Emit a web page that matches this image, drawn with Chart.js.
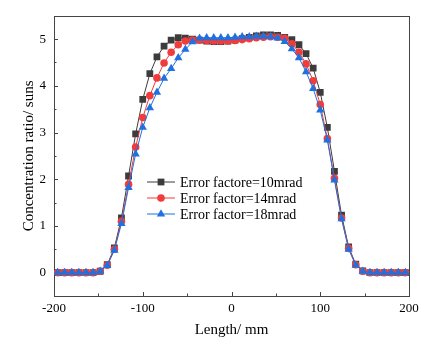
<!DOCTYPE html>
<html>
<head>
<meta charset="utf-8">
<script src="https://cdn.jsdelivr.net/npm/chart.js@4.4.1/dist/chart.umd.min.js"></script>
<style>
  html, body { margin: 0; padding: 0; background: #fff; }
</style>
</head>
<body>
<canvas id="chart" width="437" height="349"></canvas>
<script>
// positions along the receiver, mm
const lengths = [-196, -188, -180, -172, -164, -156, -148, -140, -132, -124, -116, -108, -100, -92, -84, -76, -68, -60, -52, -44, -36, -28, -20, -12, -4,
                 4, 12, 20, 28, 36, 44, 52, 60, 68, 76, 84, 92, 100, 108, 116, 124, 132, 140, 148, 156, 164, 172, 180, 188, 196];

// concentration ratio (suns) for each error factor
const err10 = [0, 0, 0, 0, 0, 0, 0.03, 0.17, 0.53, 1.17, 2.07, 2.97, 3.71, 4.26, 4.62, 4.85, 4.98, 5.03, 5.02, 5.0, 4.98, 4.96, 4.95, 4.95, 4.96,
               4.98, 5.01, 5.04, 5.07, 5.09, 5.09, 5.08, 5.04, 4.99, 4.88, 4.69, 4.38, 3.86, 3.11, 2.17, 1.23, 0.55, 0.18, 0.04, 0, 0, 0, 0, 0, 0];
const err14 = [0, 0, 0, 0, 0, 0, 0.03, 0.16, 0.5, 1.1, 1.89, 2.69, 3.32, 3.79, 4.17, 4.49, 4.72, 4.88, 4.96, 4.98, 4.98, 4.97, 4.96, 4.96, 4.96,
               4.97, 4.99, 5.01, 5.03, 5.04, 5.05, 5.04, 5.02, 4.9, 4.72, 4.47, 4.11, 3.6, 2.87, 2.02, 1.17, 0.52, 0.17, 0.03, 0, 0, 0, 0, 0, 0];
const err18 = [0, 0, 0, 0, 0, 0, 0.03, 0.15, 0.48, 1.05, 1.82, 2.54, 3.11, 3.53, 3.86, 4.16, 4.37, 4.6, 4.78, 4.94, 5.02, 5.03, 5.03, 5.03, 5.03,
               5.04, 5.05, 5.05, 5.06, 5.06, 5.05, 5.02, 4.95, 4.79, 4.6, 4.3, 3.94, 3.48, 2.84, 1.98, 1.15, 0.5, 0.16, 0.03, 0, 0, 0, 0, 0, 0];

const seriesNames = ["Error factore=10mrad", "Error factor=14mrad", "Error factor=18mrad"];
const xTicks = [-200, -100, 0, 100, 200];
const yTicks = [0, 1, 2, 3, 4, 5];

const serif = "'Liberation Serif', 'Times New Roman', serif";
const frameColor = "#444";

function toPoints(values) {
  return values.map((v, i) => ({ x: lengths[i], y: v }));
}

// box round the plot and inward ticks (major + minor)
const frame = {
  id: "frame",
  beforeDatasetsDraw(chart) {
    const { ctx, chartArea: a, scales: { x, y } } = chart;
    ctx.save();
    ctx.strokeStyle = frameColor;
    ctx.lineWidth = 1;
    ctx.strokeRect(Math.round(a.left) + 0.5, Math.round(a.top) + 0.5,
                   Math.round(a.right - a.left), Math.round(a.bottom - a.top));
    ctx.beginPath();
    for (let v = -200; v <= 200; v += 50) {
      const px = Math.round(x.getPixelForValue(v)) + 0.5;
      const len = v % 100 === 0 ? 4 : 2.5;
      ctx.moveTo(px, a.bottom);
      ctx.lineTo(px, a.bottom - len);
    }
    for (let v = -0.5; v <= 5.5; v += 0.5) {
      const py = Math.round(y.getPixelForValue(v)) + 0.5;
      const len = Number.isInteger(v) ? 4 : 2.5;
      ctx.moveTo(a.left, py);
      ctx.lineTo(a.left + len, py);
    }
    ctx.stroke();
    ctx.restore();
  }
};

// legend drawn inside the plot: line + marker + label
const innerLegend = {
  id: "innerLegend",
  afterDatasetsDraw(chart) {
    const { ctx } = chart;
    ctx.save();
    chart.data.datasets.forEach((ds, i) => {
      const yy = 182 + i * 16;
      ctx.strokeStyle = ds.borderColor;
      ctx.fillStyle = ds.backgroundColor;
      ctx.lineWidth = 1;
      ctx.beginPath();
      ctx.moveTo(147, yy);
      ctx.lineTo(175, yy);
      ctx.stroke();
      Chart.helpers.drawPoint(ctx, { pointStyle: ds.pointStyle, radius: ds.pointRadius, rotation: 0, borderWidth: 0 }, 161, yy);
      ctx.fillStyle = "#000";
      ctx.font = "14px " + serif;
      ctx.textBaseline = "middle";
      ctx.textAlign = "left";
      ctx.fillText(ds.label, 180, yy + 1);
    });
    ctx.restore();
  }
};

const mkSet = (label, values, color, style, r, order) => ({
  label: label,
  data: toPoints(values),
  borderColor: color,
  backgroundColor: color,
  borderWidth: 1,
  pointStyle: style,
  pointRadius: r,
  pointBorderWidth: 0,
  tension: 0,
  order: order
});

new Chart(document.getElementById("chart"), {
  type: "line",
  data: {
    datasets: [
      mkSet(seriesNames[0], err10, "#3c3c3c", "rect", 4.8, 3),
      mkSet(seriesNames[1], err14, "#f03c3c", "circle", 3.8, 2),
      mkSet(seriesNames[2], err18, "#2070e0", "triangle", 4.8, 1)
    ]
  },
  options: {
    responsive: false,
    animation: false,
    devicePixelRatio: 1,
    layout: { padding: { top: 13, right: 28, left: 0, bottom: 0 } },
    plugins: { legend: { display: false }, tooltip: { enabled: false } },
    scales: {
      x: {
        type: "linear",
        min: -200,
        max: 200,
        afterBuildTicks: s => { s.ticks = xTicks.map(v => ({ value: v })); },
        afterFit: s => { s.height = 53; },
        grid: { display: false, drawTicks: false },
        border: { display: false },
        ticks: { color: "#000", font: { family: serif, size: 13 }, padding: 5, maxRotation: 0 },
        title: { display: true, text: "Length/ mm", color: "#000", font: { family: serif, size: 15 }, padding: { top: 0, bottom: 10 } }
      },
      y: {
        type: "linear",
        min: -0.5,
        max: 5.5,
        afterBuildTicks: s => { s.ticks = yTicks.map(v => ({ value: v })); },
        afterFit: s => { s.width = 54; },
        grid: { display: false, drawTicks: false },
        border: { display: false },
        ticks: { color: "#000", font: { family: serif, size: 13 }, padding: 8 },
        title: { display: true, text: "Concentration ratio/ suns", color: "#000", font: { family: serif, size: 15 }, padding: { top: 20, bottom: 0 } }
      }
    }
  },
  plugins: [frame, innerLegend]
});
</script>
</body>
</html>
